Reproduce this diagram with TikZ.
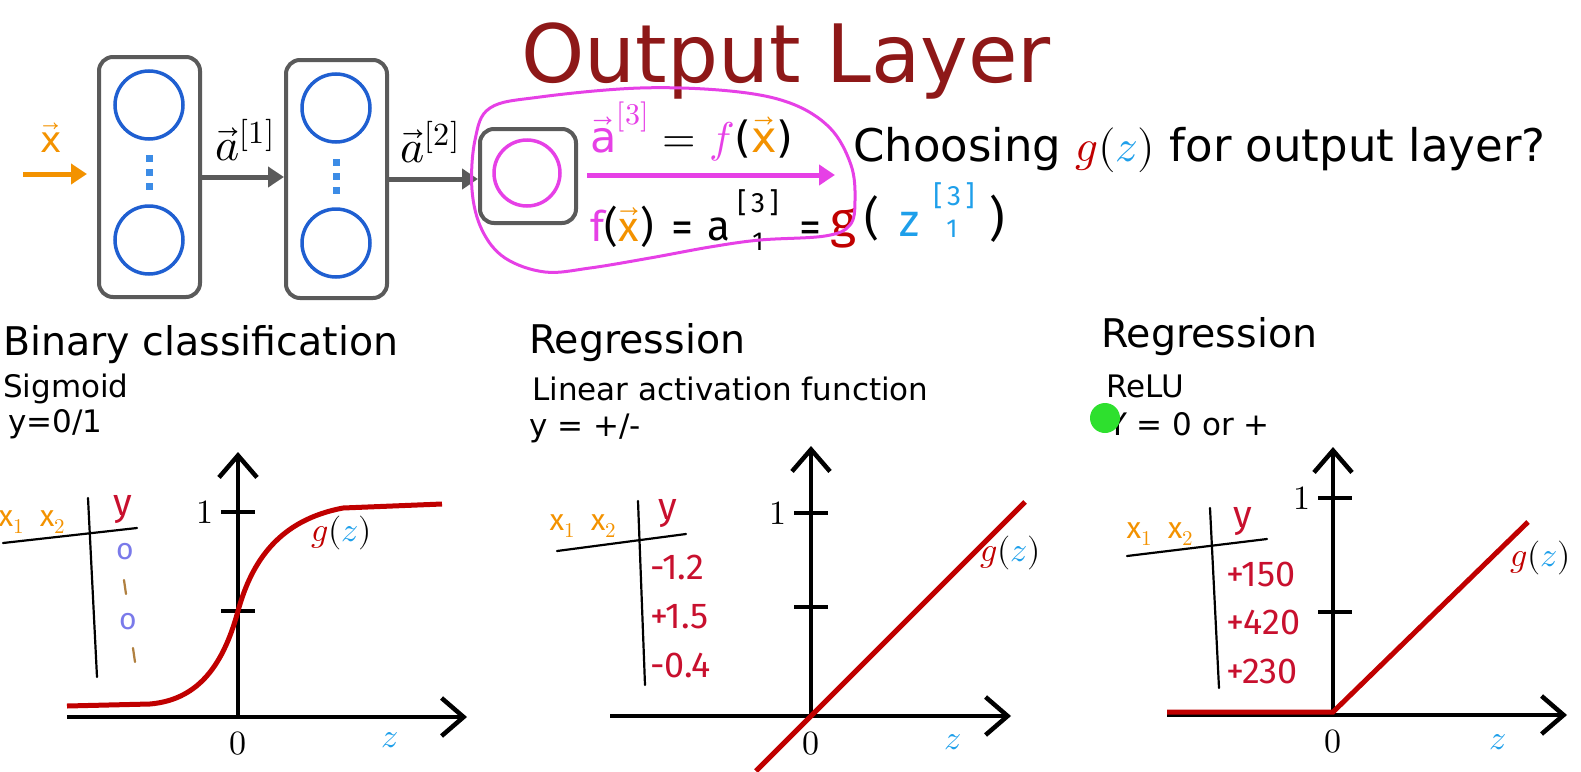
\documentclass[tikz,border=0pt]{standalone}
\usepackage{amsmath}
\usepackage{fontspec}
\usepackage{unicode-math}
\setmainfont{DejaVu Sans}
\setmathfont{Latin Modern Math}
\newfontfamily\handfont{Fira Sans}
\usetikzlibrary{arrows.meta,positioning,calc}
\definecolor{Slate}{HTML}{5A5A5A}
\definecolor{Blue}{HTML}{1F5FD1}
\definecolor{Dot}{HTML}{3C8CE6}
\definecolor{Orange}{HTML}{F39200}
\definecolor{Magenta}{HTML}{E640E6}
\definecolor{Crimson}{HTML}{C00000}
\definecolor{Title}{HTML}{8E1818}
\definecolor{Sky}{HTML}{1E9FEA}
\definecolor{HandRed}{HTML}{C8102E}
\definecolor{Purple}{HTML}{7A7AEA}
\definecolor{Brown}{HTML}{B08040}
\definecolor{Cursor}{HTML}{2EE02E}
\newcommand{\hs}[1]{\handfont\fontsize{#1}{#1}\selectfont}
\tikzset{
  layer/.style={draw=Slate, line width=4pt, rounded corners=14pt, inner sep=0pt},
  unit/.style={circle, draw=#1, line width=3.5pt, inner sep=0pt, minimum size=68pt},
  unit/.default=Blue,
  dot/.style={fill=Dot, inner sep=0pt, minimum size=7pt},
  flow/.style={-{Triangle[length=16pt,width=20pt]}, line width=5pt, draw=#1},
  flow/.default=Slate,
  axis/.style={-{Straight Barb[length=22pt,width=38pt]}, line width=4.5pt},
  tickmark/.style={line width=4.5pt},
  curve/.style={line width=5pt, draw=Crimson},
  heading/.style={anchor=base west, inner sep=0pt, font=\fontsize{39.5}{44}\selectfont},
  subhead/.style={anchor=base west, inner sep=0pt, font=\fontsize{31}{36}\selectfont},
  mathlabel/.style={inner sep=0pt, font=\fontsize{34}{40}\selectfont},
  hand/.style={inner sep=0pt, font=\hs{36}},
  pen/.style={line width=2.2pt, line cap=round}
}
\begin{document}
\begin{tikzpicture}[x=1pt, y=-1pt]
  \useasboundingbox (0,0) rectangle (1581,771);
  \node[anchor=base west, inner sep=0pt, text=Title, font=\fontsize{80.5}{90}\selectfont] (title) at (521,82) {Output Layer};

  \node[layer, minimum width=101pt, minimum height=240pt] (l1) at (149.5,177) {};
  \node[layer, minimum width=101pt, minimum height=238pt] (l2) at (336.5,179) {};
  \node[layer, minimum width=96pt, minimum height=94pt] (l3) at (528,176) {};
  \node[unit] (u11) at (149,105) {};
  \node[unit] (u12) at (149,240) {};
  \node[unit] (u21) at (336,108) {};
  \node[unit] (u22) at (336,243) {};
  \node[unit=Magenta, minimum size=66pt] (u31) at (527,173) {};
  \foreach \y in {158,172,186} \node[dot] at (149,\y) {};
  \foreach \y in {162,176,190} \node[dot] at (336,\y) {};

  \coordinate (xin) at (23,174);
  \coordinate (aout) at (835,175);
  \draw[flow=Orange] (xin) -- ([xshift=-10pt]l1.west |- xin);
  \draw[flow] (l1.east) -- (l1.east -| l2.west);
  \draw[flow] (l2.east) -- (l2.east -| l3.west);
  \draw[flow=Magenta] ([xshift=9pt]l3.east |- aout) -- (aout);

  \node[anchor=base, inner sep=0pt, text=Orange, font=\fontsize{36}{40}\selectfont] (xlab) at (51,152) {$\vec{\text{x}}$};
  \node[anchor=base, inner sep=0pt, font=\fontsize{46}{52}\selectfont] (a1) at (245,160) {$\vec{a}^{[1]}$};
  \node[anchor=base, inner sep=0pt, font=\fontsize{46}{52}\selectfont] (a2) at (430,162) {$\vec{a}^{[2]}$};
  \node[anchor=base west, inner sep=0pt, font=\fontsize{43}{48}\selectfont] (a3) at (590,152)
    {{\color{Magenta}$\vec{\text{a}}^{[3]}$} $=$ {\color{Magenta}$f$}({\color{Orange}$\vec{\text{x}}$})};
  \node[anchor=base west, inner sep=0pt, font=\fontsize{45}{50}\selectfont] (choose) at (853,161)
    {Choosing ${\color{Crimson}g}({\color{Sky}z})$ for output layer?};

  \node[hand, anchor=base west, font=\hs{42}] (fx) at (590,241) {{\color{Magenta}f}(\kern1pt{\color{Orange}$\vec{\text{x}}$}\kern1pt)};
  \node[hand, font=\hs{44}] (eq1) at (682,232) {=};
  \node[hand, anchor=base west, font=\hs{42}] (aa) at (707,240) {a};
  \node[hand, font=\hs{28}] (aup) at (758,203) {[\,3\,]};
  \node[hand, font=\hs{26}] (adn) at (758,242) {1};
  \node[hand, font=\hs{44}] (eq2) at (810,232) {=};
  \node[hand, anchor=base, text=Crimson, font=\hs{50}] (gg) at (843,237) {g};
  \node[hand, font=\hs{46}] (lp) at (872,218) {(};
  \node[hand, text=Sky, font=\hs{46}] (zz) at (910,224) {z};
  \node[hand, text=Sky, font=\hs{28}] (zup) at (954,196) {[\,3\,]};
  \node[hand, text=Sky, font=\hs{26}] (zdn) at (952,229) {1};
  \node[hand, font=\hs{48}] (rp) at (997,219) {)};
  \draw[Magenta, line width=3pt] plot[smooth cycle, tension=0.6] coordinates {
    (490,108) (540,97) (640,88) (730,91) (790,103) (830,128) (851,165) (855,200) (850,225)
    (825,236) (760,240) (710,247) (650,258) (590,268) (545,272) (505,258) (482,230) (472,190) (475,140)};

  \node[heading] (bin) at (3,355) {Binary classification};
  \node[subhead] (sig) at (3,397) {Sigmoid};
  \node[subhead] (sigy) at (8,432) {y=0/1};
  \node[heading] (reg) at (529,353) {Regression};
  \node[subhead] (lin) at (532,400) {Linear activation function};
  \node[subhead] (liny) at (529,436) {y = +/-};
  \node[heading] (reg2) at (1101,347) {Regression};
  \node[subhead] (relu) at (1106,397) {ReLU};
  \node[subhead] (reluy) at (1108,435) {Y = 0 or +};
  \fill[Cursor] (1105,418) circle (15pt);

  \coordinate (o1) at (238,717);
  \coordinate (x1l) at (67,717);
  \coordinate (x1r) at (467,717);
  \coordinate (y1t) at (238,452);
  \draw[axis] (x1l) -- (x1r);
  \draw[axis] (o1) -- (y1t);
  \draw[tickmark] (221,512) -- (255,512) (221,611) -- (255,611);
  \draw[curve] (67,706) -- (150,704) .. controls (195,700) and (222,670) .. (238,611)
    .. controls (252,560) and (280,520) .. (343,508) -- (442,504);
  \node[mathlabel, anchor=east] (one1) at (214,512) {$1$};
  \node[mathlabel] (zero1) at (238,744) {$0$};
  \node[mathlabel, text=Sky] (z1) at (390,740) {$z$};
  \node[mathlabel, anchor=west] (g1) at (311,533) {${\color{Crimson}g}({\color{Sky}z})$};
  \node[hand, text=Orange, font=\hs{30}] (h1) at (32,522) {x$_1$\ \ x$_2$};
  \node[hand, text=HandRed, font=\hs{38}] (t1) at (123,510) {y};
  \draw[pen] (3,543) -- (137,528);
  \draw[pen] (88,498) -- (97,677);
  \node[hand, text=Purple, font=\hs{30}] (v11) at (125,552) {o};
  \node[hand, text=Purple, font=\hs{30}] (v13) at (128,622) {o};
  \draw[pen, Brown] (124,580) -- (126,594);
  \draw[pen, Brown] (133,648) -- (135,662);

  \coordinate (o2) at (811,716);
  \coordinate (x2l) at (610,716);
  \coordinate (x2r) at (1011,716);
  \coordinate (y2t) at (811,446);
  \draw[axis] (x2l) -- (x2r);
  \draw[axis] (o2) -- (y2t);
  \draw[tickmark] (794,513) -- (828,513) (794,607) -- (828,607);
  \draw[curve] (756,771) -- (1025,502);
  \node[mathlabel, anchor=east] (one2) at (787,513) {$1$};
  \node[mathlabel] (zero2) at (811,744) {$0$};
  \node[mathlabel, text=Sky] (z2) at (953,742) {$z$};
  \node[mathlabel, anchor=west] (g2) at (980,553) {${\color{Crimson}g}({\color{Sky}z})$};
  \node[hand, text=Orange, font=\hs{30}] (h2) at (583,526) {x$_1$\ \ x$_2$};
  \node[hand, text=HandRed, font=\hs{38}] (t2) at (668,514) {y};
  \draw[pen] (557,551) -- (686,534);
  \draw[pen] (638,501) -- (645,685);
  \node[hand, text=HandRed, anchor=west] (v21) at (650,567) {-1.2};
  \node[hand, text=HandRed, anchor=west] (v22) at (650,617) {+1.5};
  \node[hand, text=HandRed, anchor=west] (v23) at (650,665) {-0.4};

  \coordinate (o3) at (1333,715);
  \coordinate (x3l) at (1167,715);
  \coordinate (x3r) at (1567,715);
  \coordinate (y3t) at (1333,447);
  \draw[axis] (x3l) -- (x3r);
  \draw[axis] (o3) -- (y3t);
  \draw[tickmark] (1318,498) -- (1352,498) (1318,612) -- (1352,612);
  \draw[curve] (1167,712) -- (1333,712) -- (1528,522);
  \node[mathlabel, anchor=east] (one3) at (1311,498) {$1$};
  \node[mathlabel] (zero3) at (1333,742) {$0$};
  \node[mathlabel, text=Sky] (z3) at (1498,742) {$z$};
  \node[mathlabel, anchor=west] (g3) at (1510,558) {${\color{Crimson}g}({\color{Sky}z})$};
  \node[hand, text=Orange, font=\hs{30}] (h3) at (1160,534) {x$_1$\ \ x$_2$};
  \node[hand, text=HandRed, font=\hs{38}] (t3) at (1243,522) {y};
  \draw[pen] (1127,556) -- (1267,539);
  \draw[pen] (1210,508) -- (1219,688);
  \node[hand, text=HandRed, anchor=west] (v31) at (1226,574) {+150};
  \node[hand, text=HandRed, anchor=west] (v32) at (1226,622) {+420};
  \node[hand, text=HandRed, anchor=west] (v33) at (1226,671) {+230};
\end{tikzpicture}
\end{document}
